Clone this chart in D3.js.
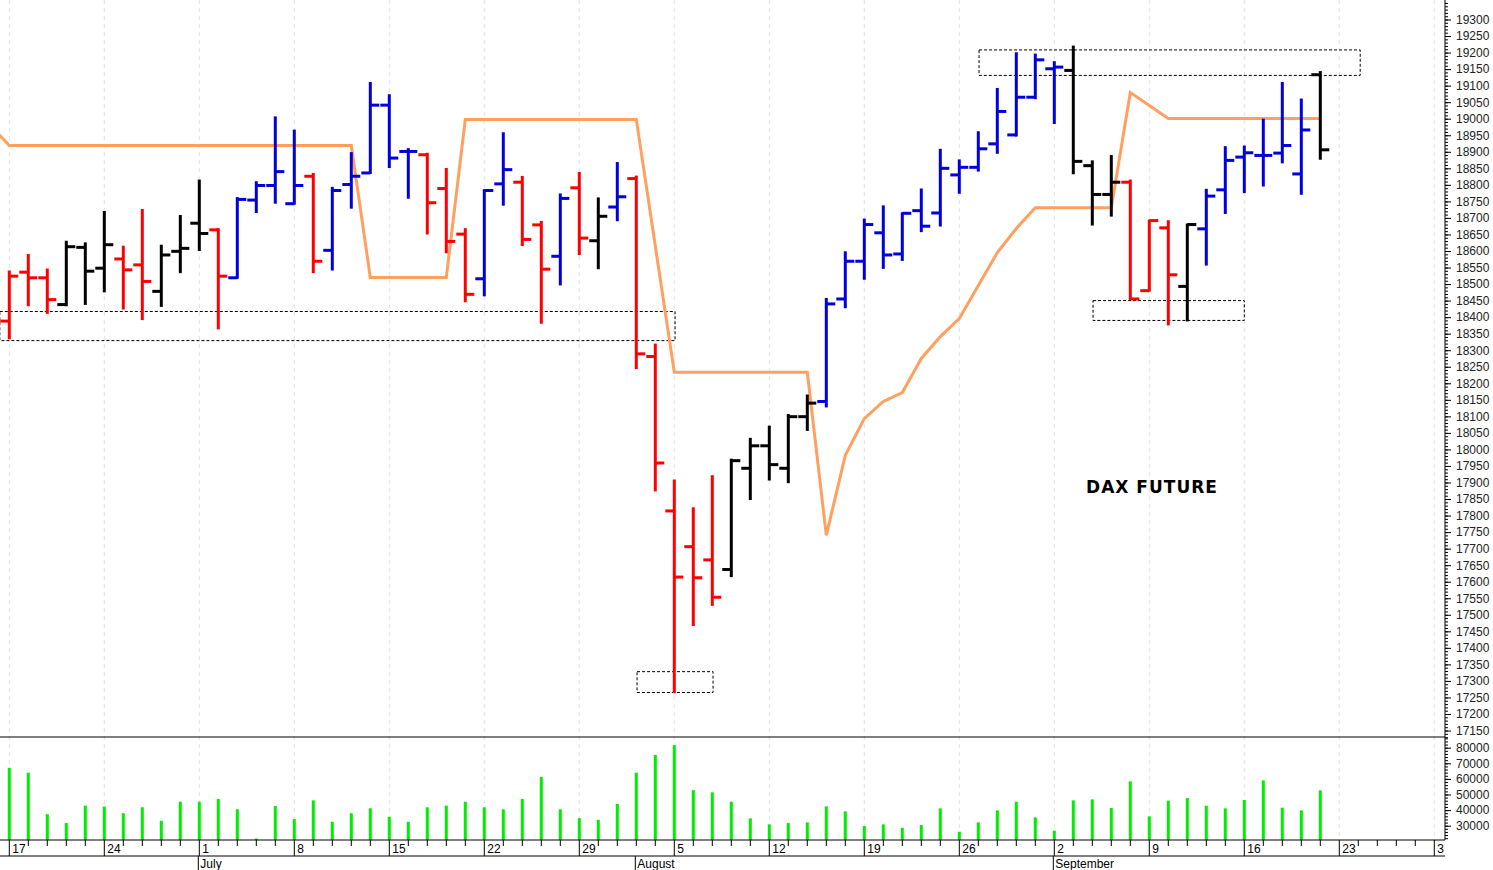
<!DOCTYPE html>
<html>
<head>
<meta charset="utf-8">
<script src="https://cdn.jsdelivr.net/npm/d3@7"></script>
<style>
  body { margin: 0; background: #fff; }
  svg { display: block; font-family: "Liberation Sans", Arial, sans-serif; }
</style>
</head>
<body>
<svg id="chart"></svg>
<script>
const width = 1493;
const height = 870;

// trading days Jun 17 .. Sep 20 2024
const days = ["06-17","06-18","06-19","06-20","06-21","06-24","06-25","06-26","06-27","06-28",
  "07-01","07-02","07-03","07-04","07-05","07-08","07-09","07-10","07-11","07-12",
  "07-15","07-16","07-17","07-18","07-19","07-22","07-23","07-24","07-25","07-26",
  "07-29","07-30","07-31","08-01","08-02","08-05","08-06","08-07","08-08","08-09",
  "08-12","08-13","08-14","08-15","08-16","08-19","08-20","08-21","08-22","08-23",
  "08-26","08-27","08-28","08-29","08-30","09-02","09-03","09-04","09-05","09-06",
  "09-09","09-10","09-11","09-12","09-13","09-16","09-17","09-18","09-19","09-20"];

const open  = [18388,18536,18519,18438,18611,18548,18576,18558,18478,18599,
  18684,18664,18519,18754,18798,18743,18826,18602,18801,18836,
  19041,18901,18891,18789,18651,18516,18803,18808,18679,18584,
  18791,18631,18733,18819,18281,17814,17706,17666,17637,17943,
  18011,17943,18099,18145,18455,18569,18655,18591,18722,18715,
  18830,18853,18924,18951,19065,19151,19146,18858,18771,18808,
  18480,18670,18493,18667,18785,18884,18889,18896,18833,19133];
const high  = [18538,18588,18544,18628,18623,18718,18613,18724,18616,18706,
  18813,18666,18760,18808,19004,18964,18833,18791,18896,19108,
  19071,18908,18894,18848,18666,18784,18956,18824,18688,18771,
  18836,18759,18866,18825,18317,17906,17822,17919,17969,18032,
  18069,18104,18163,18455,18596,18695,18735,18714,18786,18906,
  18874,18959,19090,19198,19194,19171,19218,18871,18887,18813,
  18692,18690,18680,18785,18914,18916,18997,19108,19058,19141];
const low   = [18336,18436,18413,18436,18440,18478,18426,18394,18434,18536,
  18603,18366,18519,18718,18746,18743,18536,18544,18731,18836,
  18854,18761,18653,18596,18448,18466,18740,18618,18383,18499,
  18591,18548,18693,18246,17876,17266,17469,17530,17617,17850,
  17909,17901,18059,18130,18430,18516,18549,18573,18660,18677,
  18776,18843,18897,18949,19062,18987,18835,18680,18707,18455,
  18480,18378,18390,18559,18715,18778,18798,18868,18773,18879];
const close = [18524,18519,18453,18613,18539,18619,18543,18508,18588,18608,
  18653,18524,18756,18798,18840,18798,18569,18783,18826,19041,
  18881,18901,18746,18629,18469,18783,18846,18635,18545,18759,
  18639,18705,18764,18289,17959,17614,17612,17553,17966,18011,
  17954,18099,18140,18440,18569,18680,18588,18714,18675,18850,
  18853,18909,19022,19065,19178,19156,18871,18771,18808,18455,
  18692,18528,18680,18766,18874,18897,18889,18919,18966,18906];
// r = red, b = blue, k = black
const barColor = "rrrkkkrrkkkrbbbbrbbbbbrrrbbrrbrkbrrrrrkkkkkbbbbbbbbbbbbbkkkrrrkbbbbbbk".split("");

// stepped trend line, first value is the day before Jun 17
const trendPrev = 18980;
const trend = [18919,18919,18919,18919,18919,18919,18919,18919,18919,18919,
  18919,18919,18919,18919,18919,18919,18919,18919,18919,18520,
  18520,18520,18520,18520,18998,18998,18998,18998,18998,18998,
  18998,18998,18998,18998,18615,18233,18233,18233,18233,18233,
  18233,18233,18233,17740,17982,18093,18145,18172,18275,18341,
  18396,18496,18595,18668,18731,18731,18731,18731,18731,19079,
  19040,19001,19001,19001,19001,19001,19001,19001,19001,19001];

const volume = [67127,63962,37375,31679,42862,42229,38009,41807,33156,45394,
  45394,47082,40541,21800,42651,34211,46238,32523,38009,41174,
  35688,32523,41807,42862,45394,41807,40541,47082,61219,40541,
  34844,33789,43917,63962,75356,81686,52779,51364,45380,34700,
  30850,31700,32130,42400,39180,29780,30850,28700,30420,41100,
  26150,32130,39820,45380,35340,26790,46240,46880,41320,58420,
  35980,46020,47730,42820,41100,46450,59060,41540,39820,52650];

// weekly axis labels (Mondays, every 5 trading days) and month starts
const mondayLabels = ["17","24","1","8","15","22","29","5","12","19","26","2","9","16","23","30"];
const months = [{name: "July", at: 10}, {name: "August", at: 33}, {name: "September", at: 55}];

// dotted support / resistance boxes: [fromIndex, toIndex, priceTop, priceBottom]
const boxes = [[-0.5, 35.04, 18417, 18329], [33.04, 37.04, 17328, 17265],
  [51.04, 71.1, 19208, 19131], [57.04, 65.0, 18450, 18390]];

const colors = { r: "#ff0000", b: "#0000dd", k: "#000000" };
const axisX = 1445, priceBottom = 737, volBottom = 840;

const svg = d3.select("#chart").attr("width", width).attr("height", height);

const x = d3.scaleLinear().domain([0, 75]).range([9.3, 1434.3]);
const y = d3.scaleLinear().domain([17200, 19300]).range([714, 19.5]);
const yv = d3.scaleLinear().domain([30000, 80000]).range([825.7, 747.7]);

svg.append("clipPath").attr("id", "cp").append("rect")
  .attr("x", 0).attr("y", 0).attr("width", axisX).attr("height", priceBottom);
svg.append("clipPath").attr("id", "cb").append("rect")
  .attr("x", 0).attr("y", 0).attr("width", axisX - 1).attr("height", height);

// grid
svg.append("g").selectAll("line").data(d3.range(0, 76, 5)).join("line")
  .attr("x1", d => x(d)).attr("x2", d => x(d)).attr("y1", 0).attr("y2", volBottom)
  .attr("stroke", "#e2e2ea").attr("stroke-dasharray", "4,4");

const plot = svg.append("g").attr("clip-path", "url(#cp)");

// boxes
plot.selectAll("rect.box").data(boxes).join("rect").attr("class", "box")
  .attr("x", d => x(d[0])).attr("width", d => x(d[1]) - x(d[0]))
  .attr("y", d => y(d[2])).attr("height", d => y(d[3]) - y(d[2]))
  .attr("fill", "none").attr("stroke", "#000").attr("stroke-width", 1).attr("stroke-dasharray", "3,2");

// trend line
const trendPts = [[-1, trendPrev]].concat(trend.map((v, i) => [i, v]));
plot.append("path").datum(trendPts)
  .attr("d", d3.line().x(d => x(d[0])).y(d => y(d[1])))
  .attr("fill", "none").attr("stroke", "#ffa060").attr("stroke-width", 3);

// OHLC bars
const bars = plot.append("g").selectAll("g").data(days).join("g")
  .attr("stroke", (d, i) => colors[barColor[i]]).attr("stroke-width", 3);
bars.append("line").attr("x1", (d, i) => x(i)).attr("x2", (d, i) => x(i))
  .attr("y1", (d, i) => y(high[i]) - 1).attr("y2", (d, i) => y(low[i]) + 1);
bars.append("line").attr("x1", (d, i) => x(i) - 9).attr("x2", (d, i) => x(i))
  .attr("y1", (d, i) => y(open[i])).attr("y2", (d, i) => y(open[i]));
bars.append("line").attr("x1", (d, i) => x(i)).attr("x2", (d, i) => x(i) + 9)
  .attr("y1", (d, i) => y(close[i])).attr("y2", (d, i) => y(close[i]));

svg.append("text").attr("x", 1152).attr("y", 493).attr("text-anchor", "middle")
  .attr("font-family", "DejaVu Sans").attr("font-weight", "bold").attr("font-size", 17)
  .attr("letter-spacing", 1).text("DAX FUTURE");

// volume
svg.append("g").selectAll("line").data(volume).join("line")
  .attr("x1", (d, i) => x(i)).attr("x2", (d, i) => x(i))
  .attr("y1", volBottom).attr("y2", d => yv(d))
  .attr("stroke", "#00ee00").attr("stroke-width", 3);

// frame lines
svg.append("line").attr("x1", 0).attr("x2", axisX).attr("y1", priceBottom).attr("y2", priceBottom).attr("stroke", "#000");
svg.append("line").attr("x1", 0).attr("x2", axisX).attr("y1", volBottom).attr("y2", volBottom).attr("stroke", "#000");
svg.append("line").attr("x1", 0).attr("x2", axisX).attr("y1", 856).attr("y2", 856).attr("stroke", "#000");

// right price axis
const pAxis = svg.append("g").attr("transform", `translate(${axisX},0)`)
  .call(d3.axisRight(y).tickValues(d3.range(17150, 19301, 50)).tickFormat(d3.format("d")).tickSize(6).tickPadding(5));
svg.append("g").attr("transform", `translate(${axisX},0)`)
  .call(d3.axisRight(y).tickValues(d3.range(17130, 19360, 10)).tickFormat("").tickSize(3))
  .select(".domain").remove();
pAxis.select(".domain").attr("d", `M0,0V${volBottom}`);
pAxis.selectAll("text").attr("font-size", 12).attr("fill", "#222").attr("font-family", "Liberation Sans, Arial");

const vAxis = svg.append("g").attr("transform", `translate(${axisX},0)`)
  .call(d3.axisRight(yv).tickValues(d3.range(30000, 80001, 10000)).tickFormat(d3.format("d")).tickSize(6).tickPadding(5));
vAxis.select(".domain").remove();
vAxis.selectAll("text").attr("font-size", 12).attr("fill", "#222").attr("font-family", "Liberation Sans, Arial");
svg.append("g").attr("transform", `translate(${axisX},0)`)
  .call(d3.axisRight(yv).tickValues(d3.range(22000, 86001, 2000)).tickFormat("").tickSize(3))
  .select(".domain").remove();

// bottom date axis
const dAxis = svg.append("g").attr("clip-path", "url(#cb)");
dAxis.selectAll("line.day").data(d3.range(0, 76)).join("line").attr("class", "day")
  .attr("x1", d => x(d)).attr("x2", d => x(d)).attr("y1", volBottom)
  .attr("y2", d => d % 5 === 0 ? 856 : 846).attr("stroke", "#000");
dAxis.selectAll("text.wk").data(mondayLabels).join("text").attr("class", "wk")
  .attr("x", (d, i) => x(i * 5) + 3).attr("y", 853).attr("font-size", 12).text(d => d);
dAxis.selectAll("line.mon").data(months).join("line").attr("class", "mon")
  .attr("x1", d => x(d.at) - 1).attr("x2", d => x(d.at) - 1).attr("y1", 856).attr("y2", 870).attr("stroke", "#000");
dAxis.selectAll("text.mon").data(months).join("text").attr("class", "mon")
  .attr("x", d => x(d.at) + 1).attr("y", 868).attr("font-size", 12).text(d => d.name);
</script>
</body>
</html>
